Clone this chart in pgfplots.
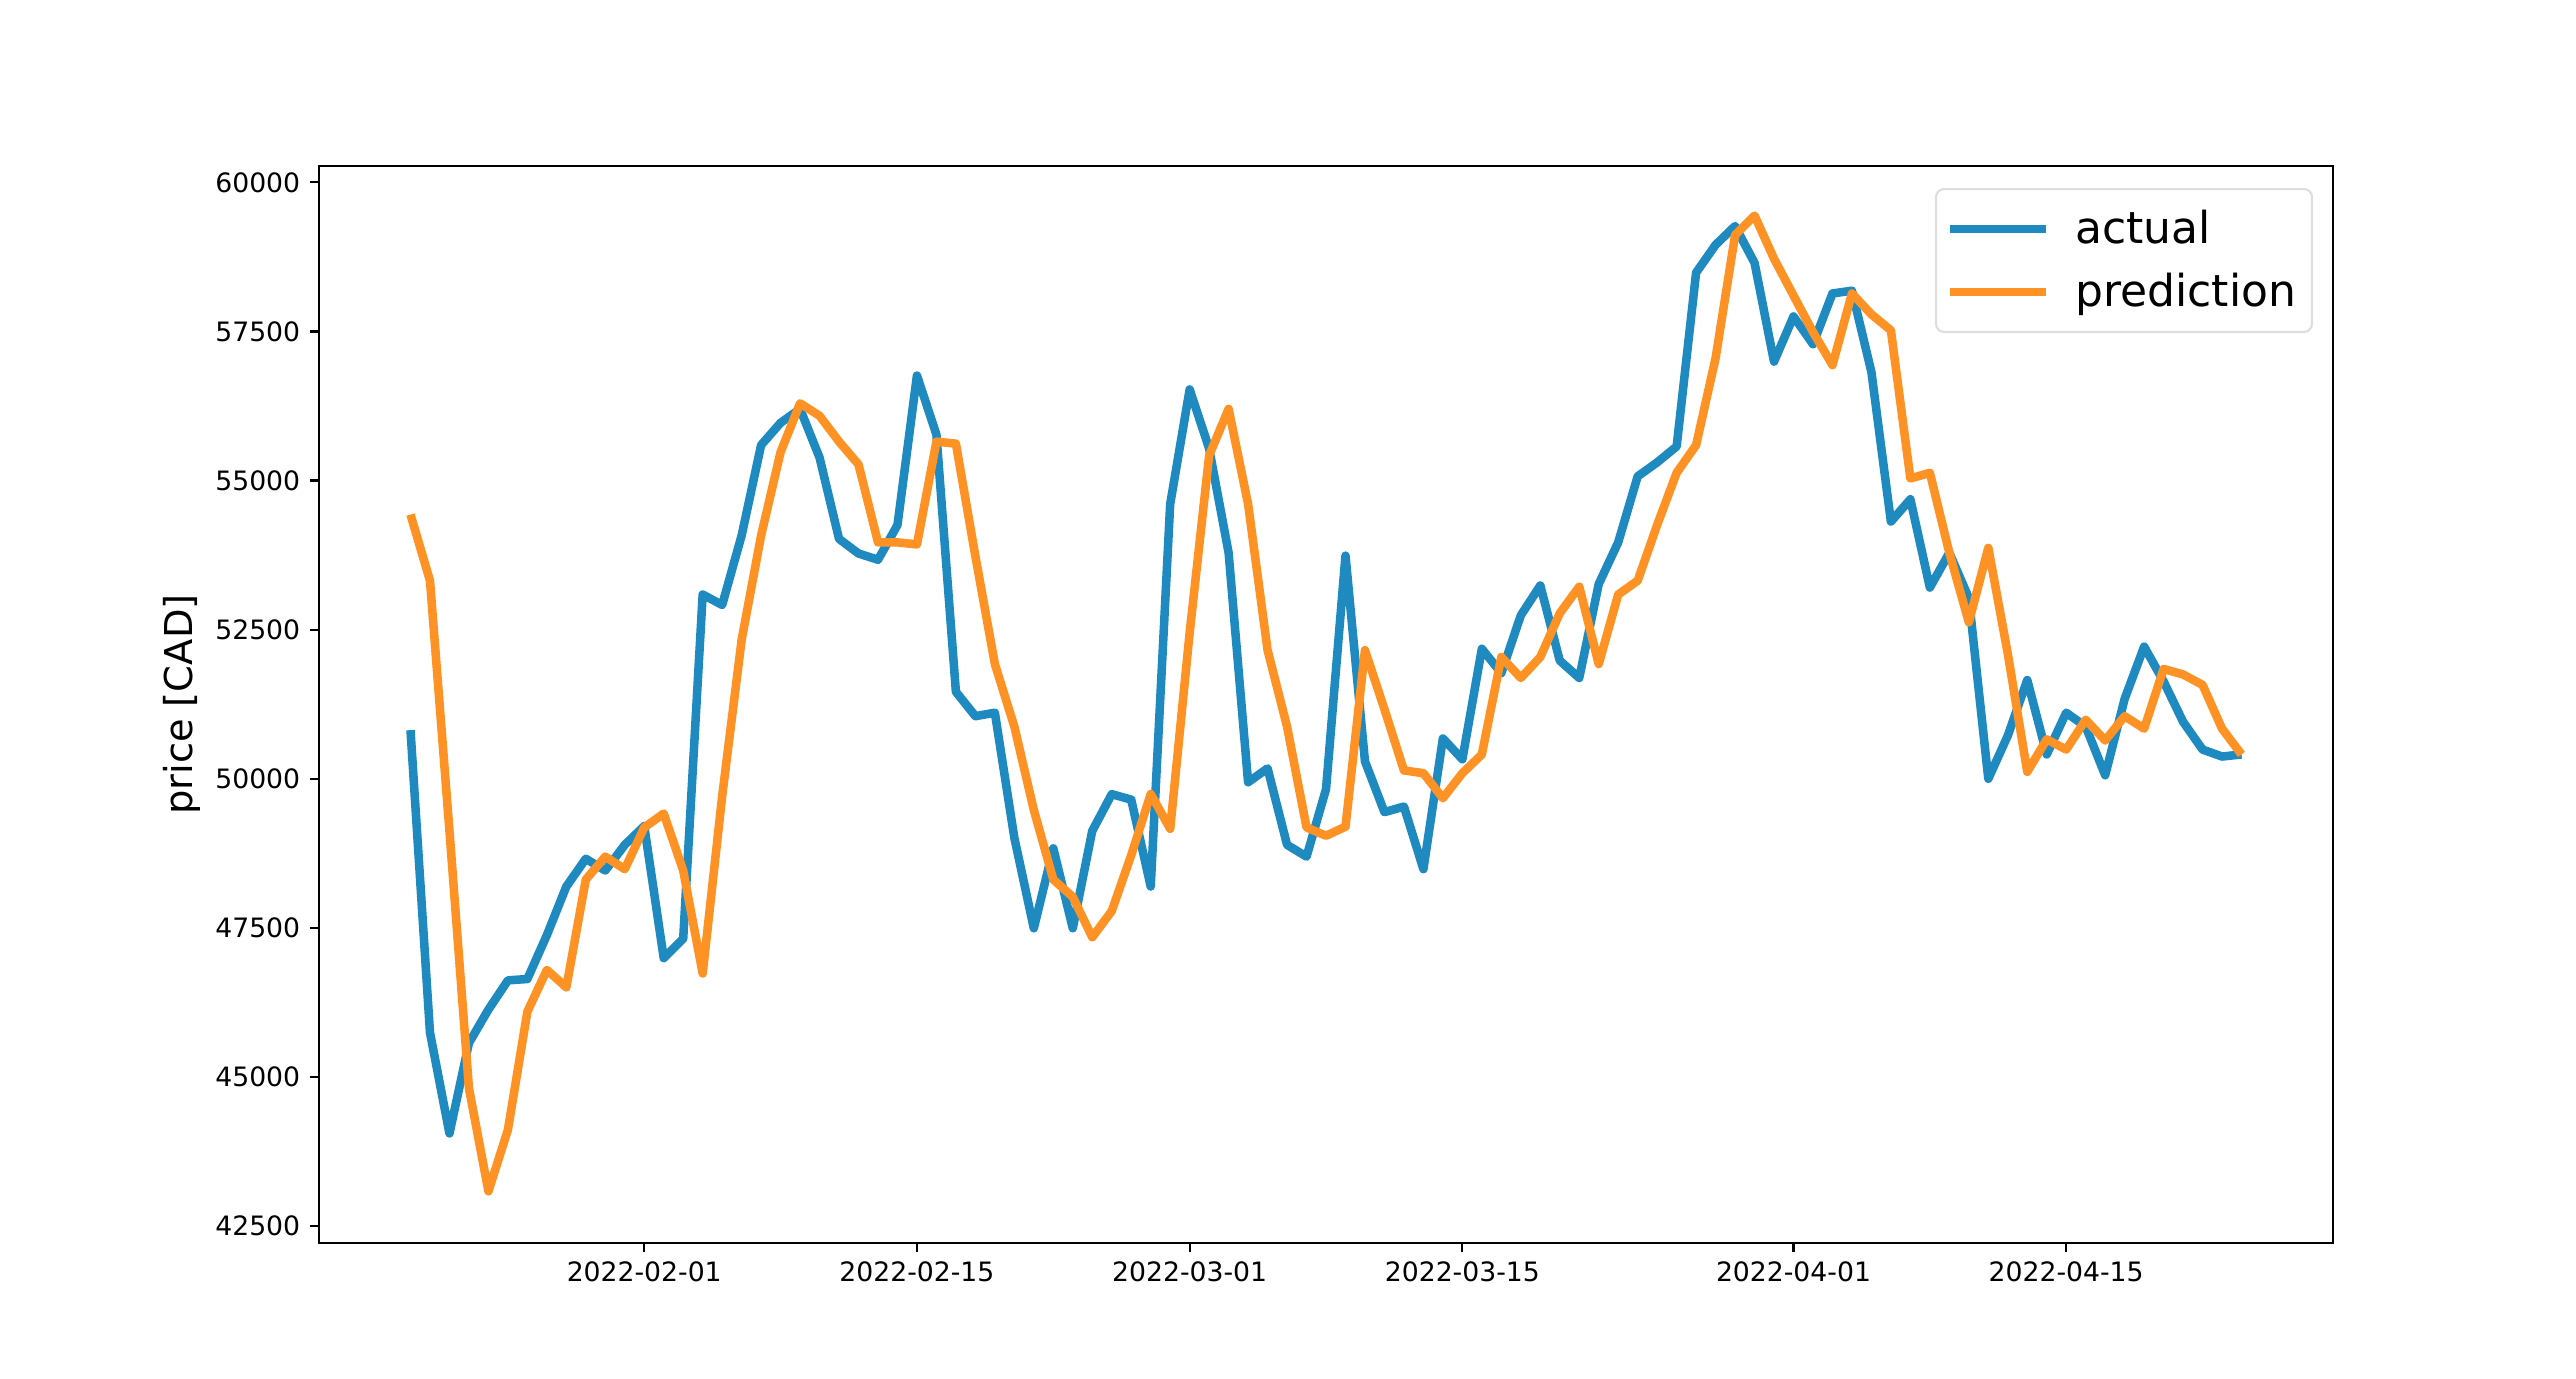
\documentclass[border=0pt]{standalone}
\usepackage{fontspec}
\setmainfont{DejaVu Sans}
\usepackage{pgfplots}
\usepackage{pgfplotstable}
\pgfplotsset{compat=1.18}
\definecolor{cblue}{RGB}{31,138,192}
\definecolor{corange}{RGB}{255,146,36}
\pgfplotstableread{
d actual pred
-12 50814 54429
-11 45742 53321
-10 44050 49124
-9 45567 44810
-8 46127 43080
-7 46617 44110
-6 46640 46092
-5 47375 46792
-4 48191 46500
-3 48657 48308
-2 48459 48692
-1 48890 48482
0 49205 49182
1 46990 49415
2 47316 48459
3 53088 46733
4 52913 49707
5 54079 52330
6 55595 54079
7 55968 55478
8 56201 56295
9 55385 56085
10 54021 55653
11 53776 55269
12 53671 53963
13 54254 53963
14 56761 53928
15 55770 55653
16 51456 55618
17 51048 53729
18 51106 51922
19 49007 50873
20 47491 49474
21 48832 48308
22 47491 48016
23 49124 47340
24 49740 47780
25 49648 48716
26 48191 49742
27 54604 49159
28 56528 52447
29 55537 55420
30 53788 56201
31 49940 54604
32 50173 52155
33 48890 50873
34 48692 49182
35 49823 49042
36 53740 49195
37 50290 52155
38 49439 51164
39 49532 50138
40 48482 50092
41 50674 49672
42 50325 50092
43 52178 50406
44 51770 52039
45 52738 51689
46 53240 52039
47 51980 52773
48 51689 53220
49 53263 51922
50 53963 53088
51 55070 53321
52 55304 54254
53 55572 55129
54 58487 55595
55 58953 57053
56 59268 59116
57 58650 59443
58 56994 58720
59 57752 58102
60 57286 57490
61 58137 56936
62 58184 58137
63 56819 57787
64 54312 57519
65 54685 55035
66 53205 55129
67 53788 53788
68 53030 52622
69 49998 53870
70 50721 52097
71 51654 50115
72 50406 50660
73 51106 50488
74 50873 50989
75 50057 50640
76 51339 51048
77 52214 50838
78 51631 51840
79 50954 51747
80 50488 51572
81 50371 50838
82 50406 50406
}\datatable
\begin{document}
\begin{tikzpicture}
\begin{axis}[
  scale only axis,
  width=755.25pt, height=403.9pt,
  xmin=-16.7, xmax=86.7,
  ymin=42210, ymax=60275,
  axis line style={line width=0.9pt},
  scaled y ticks=false, scaled x ticks=false,
  xtick={0,14,28,42,59,73},
  xticklabels={2022-02-01,2022-02-15,2022-03-01,2022-03-15,2022-04-01,2022-04-15},
  ytick={42500,45000,47500,50000,52500,55000,57500,60000},
  yticklabels={42500,45000,47500,50000,52500,55000,57500,60000},
  xtick pos=bottom, ytick pos=left,
  tick align=outside,
  major tick length=3.5pt,
  every tick/.style={black, line width=0.8pt},
  tick label style={font=\fontsize{10}{12}\selectfont},
  /pgf/number format/assume math mode=true,
  ylabel={price [CAD]},
  every axis y label/.style={at={(axis description cs:-0.068,0.5)}, rotate=90, anchor=center, font=\fontsize{14.4}{17}\selectfont},
  legend style={at={(axis description cs:1,1)}, anchor=north east, xshift=-7.5pt, yshift=-8.25pt,
    draw=black!13, line width=0.8pt, rounded corners=3pt, fill=white, fill opacity=0.9, text opacity=1,
    font=\fontsize{16.5}{19}\selectfont, inner xsep=3.5pt, inner ysep=5.5pt,
    row sep=4.5pt, column sep=7pt,
    nodes={inner sep=2.5pt}},
  legend cell align=left,
  legend image code/.code={\draw[#1] (0pt,0pt) -- (36pt,0pt);},
]
\addplot[cblue, line width=3.2pt, line join=round] table[x=d, y=actual] {\datatable};
\addlegendentry{actual}
\addplot[corange, line width=3.2pt, line join=round] table[x=d, y=pred] {\datatable};
\addlegendentry{prediction}
\end{axis}
\path (current axis.south west) ++(-119.6pt,-50.6pt) (current axis.north east) ++(91.1pt,62.25pt);
\end{tikzpicture}
\end{document}
